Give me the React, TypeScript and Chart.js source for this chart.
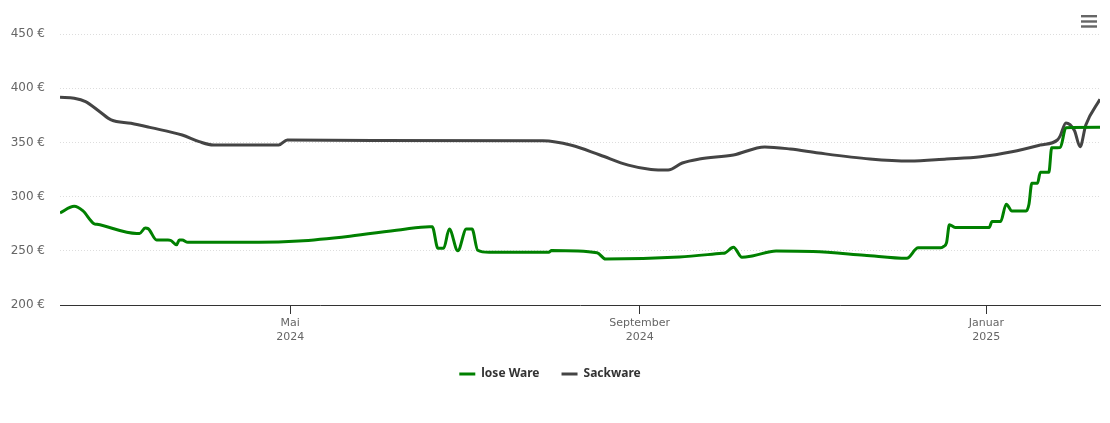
import React, { useEffect, useRef } from 'react';
import { Chart, registerables } from 'chart.js';

Chart.register(...registerables);

const looseDates = [
  '2024-02-10', '2024-02-15', '2024-02-18', '2024-02-22', '2024-02-23', '2024-03-08', '2024-03-09',
  '2024-03-11', '2024-03-12', '2024-03-15', '2024-03-19', '2024-03-20', '2024-03-22', '2024-03-23',
  '2024-03-24', '2024-03-26', '2024-04-20', '2024-05-04', '2024-05-22', '2024-06-09', '2024-06-19',
  '2024-06-20', '2024-06-22', '2024-06-24', '2024-06-26', '2024-06-29', '2024-07-02', '2024-07-04',
  '2024-07-06', '2024-07-10', '2024-07-31', '2024-08-01', '2024-08-17', '2024-08-20', '2024-09-15',
  '2024-09-30', '2024-10-01', '2024-10-04', '2024-10-07', '2024-10-11', '2024-10-19', '2024-11-01',
  '2024-11-19', '2024-12-04', '2024-12-08', '2024-12-16', '2024-12-17', '2024-12-18', '2024-12-19',
  '2024-12-21', '2025-01-02', '2025-01-03', '2025-01-06', '2025-01-08', '2025-01-10', '2025-01-15',
  '2025-01-16', '2025-01-17', '2025-01-19', '2025-01-20', '2025-01-23', '2025-01-24', '2025-01-27',
  '2025-01-29', '2025-02-10',
];
const looseValues = [
  285, 291, 287, 275, 274.5, 266, 266,
  271, 270.5, 260, 260, 259.5, 255.5, 260,
  260, 257.8, 257.8, 259, 263.5, 269.5, 272.2,
  272.2, 252.3, 252.3, 270, 250, 270, 270,
  250.5, 248.6, 248.6, 250.2, 248.2, 242.4, 244.3,
  247.7, 248, 253.2, 244, 245.5, 249.8, 249.3,
  246, 243.1, 252.8, 252.8, 254, 257.5, 274,
  271.6, 271.6, 277, 277, 293, 286.7, 286.7,
  293, 312.3, 312.3, 322.4, 322.4, 345, 345.2,
  363.6, 364,
];

const sackDates = [
  '2024-02-10', '2024-02-15', '2024-02-19', '2024-02-24', '2024-02-28', '2024-03-06', '2024-03-13',
  '2024-03-24', '2024-03-30', '2024-04-04', '2024-04-27', '2024-04-30', '2024-05-30', '2024-07-29',
  '2024-08-08', '2024-08-18', '2024-08-28', '2024-09-05', '2024-09-11', '2024-09-16', '2024-09-22',
  '2024-10-04', '2024-10-15', '2024-10-24', '2024-11-03', '2024-11-21', '2024-12-05', '2024-12-18',
  '2024-12-30', '2025-01-10', '2025-01-20', '2025-01-26', '2025-01-27', '2025-01-29', '2025-02-01',
  '2025-02-03', '2025-02-05', '2025-02-10',
];
const sackValues = [
  391.6, 390.7, 387.6, 378.3, 370.7, 367.6, 363.6,
  356.8, 350.7, 347.6, 347.6, 352.3, 351.8, 351.5,
  347.4, 338.4, 329, 325, 324.5, 331, 334.7,
  338.4, 345.8, 343.9, 340.2, 334.7, 332.8, 334.7,
  336.8, 341.4, 347.6, 352.2, 356, 368, 361,
  346, 366, 389.8,
];

const xStart = '2024-02-10';
const xEnd = '2025-02-10';
const xTickDates = ['2024-05-01', '2024-09-01', '2025-01-01'];
const monthNames = ['Januar', 'Februar', 'März', 'April', 'Mai', 'Juni', 'Juli', 'August', 'September', 'Oktober', 'November', 'Dezember'];
const yMin = 200;
const yMax = 450;
const yStep = 50;

const FONT = '"DejaVu Sans", Verdana, Arial, sans-serif';
const LEGEND_FONT = '"Noto Sans", "DejaVu Sans", sans-serif';

const menuIcon = {
  id: 'menuIcon',
  afterDraw(chart: any) {
    const ctx = chart.ctx;
    ctx.save();
    ctx.fillStyle = '#666666';
    [15, 20.3, 25.3].forEach((y) => ctx.fillRect(1081, y, 16, 2.4));
    ctx.restore();
  },
};

export default function App() {
  const ref = useRef<HTMLCanvasElement>(null);
  useEffect(() => {
    document.body.style.margin = '0';
    const chart = new Chart(ref.current as HTMLCanvasElement, {
      type: 'line',
      data: {
        datasets: [
          {
            label: 'lose Ware',
            data: looseDates.map((d, i) => ({ x: Date.parse(d), y: looseValues[i] })),
            borderColor: '#008000',
            backgroundColor: '#008000',
            borderWidth: 3,
            pointRadius: 0,
            pointStyle: 'line',
            cubicInterpolationMode: 'monotone',
          },
          {
            label: 'Sackware',
            data: sackDates.map((d, i) => ({ x: Date.parse(d), y: sackValues[i] })),
            borderColor: '#444444',
            backgroundColor: '#444444',
            borderWidth: 3,
            pointRadius: 0,
            pointStyle: 'line',
            cubicInterpolationMode: 'monotone',
          },
        ],
      } as any,
      options: {
        animation: false,
        responsive: true,
        maintainAspectRatio: false,
        layout: { padding: { top: 34, right: 10, left: 0, bottom: 33 } },
        plugins: {
          tooltip: { enabled: false },
          legend: {
            position: 'bottom',
            labels: {
              usePointStyle: true,
              pointStyleWidth: 16,
              padding: 22,
              color: '#333333',
              font: { family: LEGEND_FONT, size: 12, weight: 'bold' },
            },
          },
        },
        scales: {
          x: {
            type: 'linear',
            min: Date.parse(xStart),
            max: Date.parse(xEnd),
            afterBuildTicks: (axis: any) => {
              axis.ticks = xTickDates.map((d) => ({ value: Date.parse(d) }));
            },
            afterFit: (s: any) => {
              s.height = 41;
            },
            grid: { drawOnChartArea: false, drawTicks: true, tickLength: 9, tickColor: '#333333', tickWidth: 1 },
            border: { color: '#333333', width: 1 },
            ticks: {
              autoSkip: false,
              maxRotation: 0,
              padding: 2,
              color: '#666666',
              font: { family: FONT, size: 11, lineHeight: 1.3 },
              callback: (v: any) => {
                const d = new Date(Number(v));
                return [monthNames[d.getUTCMonth()], String(d.getUTCFullYear())];
              },
            },
          },
          y: {
            min: yMin,
            max: yMax,
            afterFit: (s: any) => {
              s.width = 60;
            },
            grid: { color: '#dddddd', drawTicks: false, lineWidth: 1 },
            border: { display: false, dash: [1, 2] },
            ticks: {
              stepSize: yStep,
              padding: 15,
              color: '#666666',
              font: { family: FONT, size: 12 },
              callback: (v: any) => `${v} €`,
            },
          },
        },
      } as any,
      plugins: [menuIcon],
    });
    return () => chart.destroy();
  }, []);
  return (
    <div style={{ position: 'absolute', left: 0, top: 0, width: 1110, height: 423 }}>
      <canvas ref={ref} />
    </div>
  );
}
